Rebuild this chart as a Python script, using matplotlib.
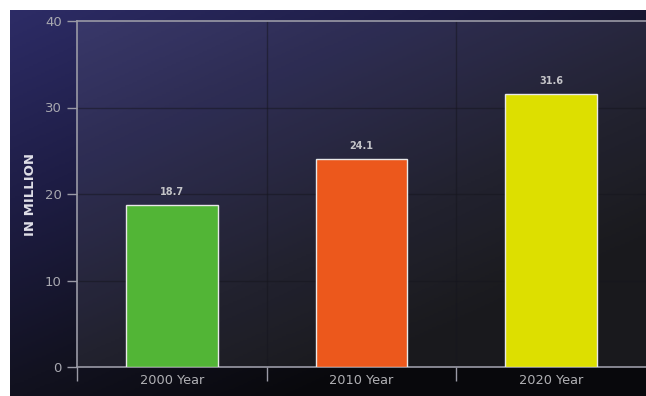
import matplotlib
matplotlib.use("Agg")
import matplotlib.pyplot as plt
import numpy as np
from matplotlib.colors import LinearSegmentedColormap

categories = ["2000 Year", "2010 Year", "2020 Year"]
values = [18.7, 24.1, 31.6]
colors = ["#52b536", "#ec581c", "#dddf00"]
yticks = [0, 10, 20, 30, 40]

W, H = 646, 396
fig = plt.figure(figsize=(W / 100, H / 100), dpi=100, facecolor="white")

# background gradient panel
bg = fig.add_axes([10 / W, 0, (W - 10) / W, (H - 10) / H])
bg.set_axis_off()
yy, xx = np.mgrid[0:1:200j, 0:1:300j]
t = np.clip(0.55 * xx + 0.75 * yy, 0, 1)
cmap = LinearSegmentedColormap.from_list(
    "bg", ["#2d2c66", "#1e1d45", "#121220", "#050505"])
bg.imshow(t, cmap=cmap, aspect="auto", extent=[0, 1, 0, 1], origin="upper",
          vmin=0, vmax=1.1)
bg.set_xlim(0, 1)
bg.set_ylim(0, 1)

ax = fig.add_axes([77 / W, 29 / H, (W - 77) / W, (367 - 21) / H])
ax.set_facecolor((1, 1, 1, 0.07))
x = np.arange(len(categories))
ax.bar(x, values, width=0.485, color=colors, edgecolor="#e8e8e8",
       linewidth=1.0, zorder=3)
for xi, v in zip(x, values):
    ax.text(xi, v + 0.9, f"{v}", ha="center", va="bottom", fontsize=7,
            color="#c4c4c8", fontweight="bold")

ax.set_xlim(-0.5, 2.5)
ax.set_ylim(0, 40)
ax.set_yticks(yticks)
ax.set_yticklabels([str(v) for v in yticks], fontsize=9.5, color="#a8a8b0")
ax.set_xticks(x)
ax.set_xticklabels(categories, fontsize=9.3, color="#b0b0b4")
ax.tick_params(axis="x", length=0, pad=5)
ax.tick_params(axis="y", length=7, color="#9a9aa6", width=1, pad=4)
ax.set_xticks([-0.5, 0.5, 1.5], minor=True)
ax.tick_params(axis="x", which="minor", length=10, color="#9a9aa6", width=1)

for yv in [10, 20, 30]:
    ax.axhline(yv, color="#16161e", lw=1, alpha=0.5, zorder=1)
for xv in [0.5, 1.5]:
    ax.axvline(xv, color="#16161e", lw=1, alpha=0.5, zorder=1)

for s in ["left", "top", "bottom"]:
    ax.spines[s].set_color("#9a9aa6")
    ax.spines[s].set_linewidth(1.2)
ax.spines["right"].set_visible(False)

ax.set_ylabel("IN MILLION", fontsize=9.5, color="#e0e0e8", fontweight="bold",
              labelpad=6)

fig.savefig("out.png", dpi=100, facecolor="white")
